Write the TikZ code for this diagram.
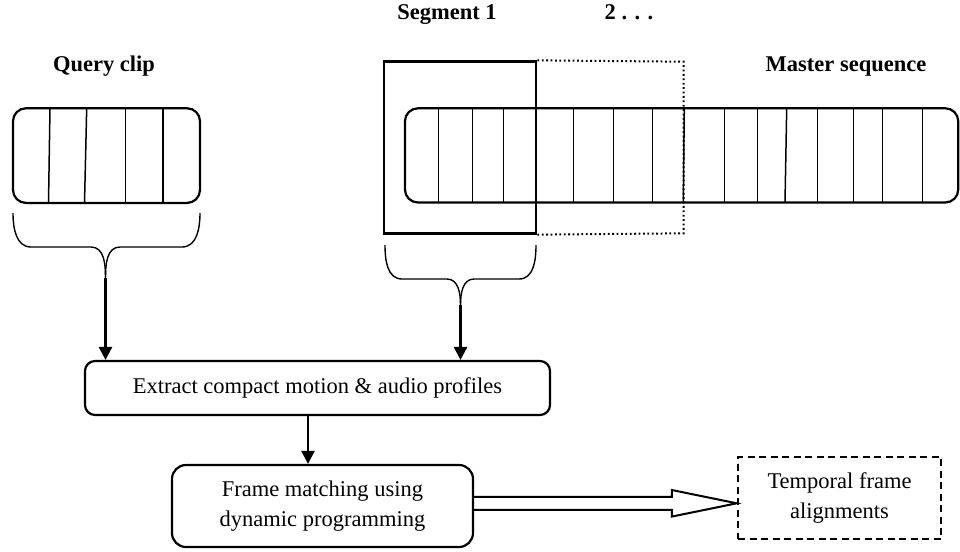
\documentclass[tikz,border=0pt]{standalone}
\usepackage{fontspec}
\setmainfont{Liberation Serif}
\usetikzlibrary{arrows.meta,calc}
\begin{document}
\begin{tikzpicture}[x=1pt,y=-1pt,
  lbl/.style={font=\fontsize{22.5}{29.5}\selectfont\bfseries, anchor=base, inner sep=0pt},
  txt/.style={font=\fontsize{22.5}{29.5}\selectfont, align=center, inner sep=0pt},
  strip/.style={draw, line width=2.2pt, rounded corners=13pt, inner sep=0pt},
  stepbox/.style={draw, line width=2.2pt, rounded corners=#1},
  divider/.style={line width=1.5pt},
  bracepath/.style={line width=1.4pt},
  arr/.style={line width=2.6pt, -{Triangle[length=13pt,width=13pt]}},
]
\useasboundingbox[fill=white] (0,0) rectangle (960,551);

% ---- titles
\node[lbl] (qlab) at (104,71) {Query clip};
\node[lbl] (slab) at (447,20) {Segment 1};
\node[lbl] (nlab) at (629,20) {2 . . .};
\node[lbl] (mlab) at (846,71) {Master sequence};

% ---- query clip frames
\node[strip, minimum width=187pt, minimum height=94.7pt] (qbox) at (106.5,155.6) {};
\draw[divider] (50,108.3) -- (48.5,203);
\draw[divider] (86.7,108.3) -- (84.5,203);
\draw[divider] (125.7,108.3) -- (125.7,203);
\draw[divider] (163,108.3) -- (163,203);

% ---- master sequence frames
\node[strip, minimum width=553.3pt, minimum height=94.2pt] (mbox) at (681.6,155.4) {};
\foreach \xa/\xb in {438.3/438.3, 472.3/472.3, 503.3/503.3, 536/536, 573.3/573.3,
                     613.3/613.3, 652.7/652.7, 684.3/683.3, 724.3/724.3, 757.3/757.3,
                     786.7/785, 817.7/817.7, 853.3/853.3, 882.7/882.7, 922.7/922.7}
  \draw[divider] (\xa,108.3) -- (\xb,202.5);

% ---- segment window and the next one (dotted)
\node[draw, line width=2.8pt, minimum width=152pt, minimum height=171.5pt, inner sep=0pt]
  (seg) at (460,147.5) {};
\coordinate (nw2) at (683.5,61.7);
\coordinate (sw2) at (683.5,233.3);
\draw[line width=2pt, dash pattern=on 1.8pt off 2.6pt]
  (seg.north east) -- (nw2) -- (sw2) -- (seg.south east);

% ---- braces
\coordinate (qtip) at (105.5,278);
\draw[bracepath] (13,213) to[out=-90,in=180] (31,247) -- (91,247) to[out=0,in=90] (qtip);
\draw[bracepath] (200,213) to[out=-90,in=0] (182,247) -- (120,247) to[out=180,in=90] (qtip);
\coordinate (stip) at (460.5,305);
\draw[bracepath] (385,245) to[out=-90,in=180] (402,279) -- (447,279) to[out=0,in=90] (stip);
\draw[bracepath] (536,245) to[out=-90,in=0] (519,279) -- (474,279) to[out=180,in=90] (stip);

% ---- processing steps
\node[stepbox=10pt, txt, minimum width=465pt, minimum height=54pt] (ext) at (317.5,388)
  {Extract compact motion \& audio profiles};
\node[stepbox=14pt, txt, minimum width=301pt, minimum height=82pt] (frame) at (322.5,506)
  {Frame matching using\\dynamic programming};
\node[draw, line width=2.5pt, dash pattern=on 7pt off 4.5pt, txt,
      minimum width=203pt, minimum height=82pt] (tmp) at (839.5,498)
  {Temporal frame\\alignments};

% ---- connectors
\draw[arr] (qtip) -- (qtip |- ext.north);
\draw[arr] (stip) -- (stip |- ext.north);
\coordinate (ef) at (308,415);
\draw[arr] (ef |- ext.south) -- (ef |- frame.north);

% hollow block arrow to the result
\coordinate (dA) at ($(frame.east)+(0,-2.7)$);
\coordinate (dB) at ($(tmp.west)+(0,5.3)$);
\draw[line width=2pt, line join=miter]
  ($(dA)+(0,-6.5)$) -- ($(dB)+(-65,-6.5)$) -- ($(dB)+(-65,-13.3)$) -- (dB)
  -- ($(dB)+(-65,13.3)$) -- ($(dB)+(-65,6.5)$) -- ($(dA)+(0,6.5)$);
\end{tikzpicture}
\end{document}
